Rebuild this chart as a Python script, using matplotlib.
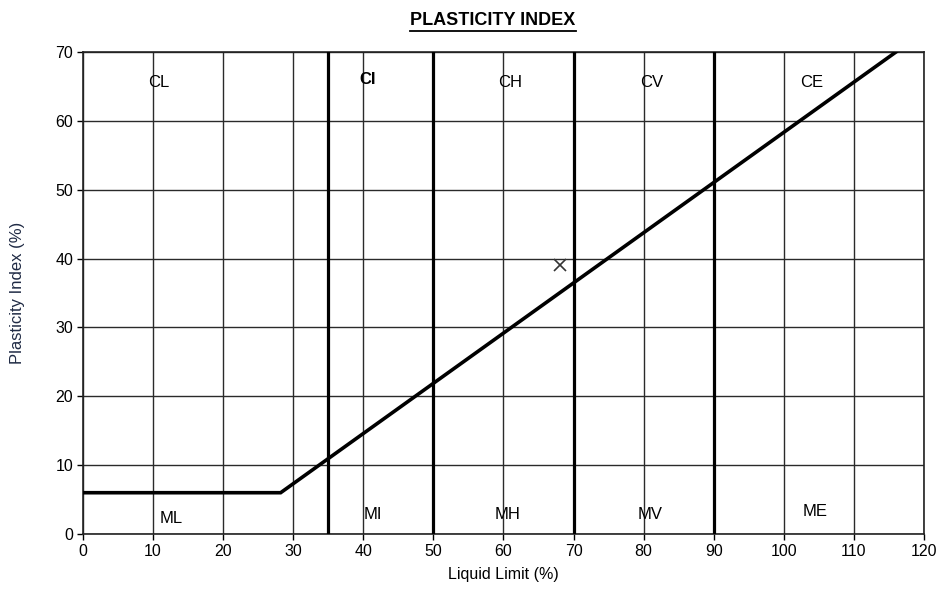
import matplotlib.pyplot as plt
from matplotlib.lines import Line2D

plt.rcParams["font.family"] = ["Liberation Sans", "DejaVu Sans"]

# A-line (Casagrande): flat at PI = 6, then PI = 0.73 (LL - 20)
aline_ll = [0, 28.2, 116]
aline_pi = [6, 6, 70]

# liquid limit boundaries between L / I / H / V / E
boundaries = [35, 50, 70, 90]

# sample result
sample_ll = [68]
sample_pi = [39]

# zone labels
zone_names = ["CL", "CI", "CH", "CV", "CE", "ML", "MI", "MH", "MV", "ME"]
zone_ll = [10.8, 40.6, 60.9, 81.1, 104.0, 12.6, 41.3, 60.6, 80.9, 104.5]
zone_pi = [65.5, 66.0, 65.5, 65.5, 65.5, 2.3, 2.9, 2.9, 2.9, 3.2]

fig = plt.figure(figsize=(9.39, 5.91), dpi=100)
ax = fig.add_axes([0.0884, 0.0964, 0.8956, 0.8156])

ax.set_xlim(0, 120)
ax.set_ylim(0, 70)
ax.set_xticks(range(0, 121, 10))
ax.set_yticks(range(0, 71, 10))
ax.grid(True, color="#2a2a2a", linewidth=1.0)
ax.set_axisbelow(True)
for s in ax.spines.values():
    s.set_linewidth(1.2)
    s.set_color("#222222")
ax.tick_params(direction="out", length=4, width=1.0, labelsize=11.5, pad=3)

for b in boundaries:
    ax.axvline(b, color="black", linewidth=2.3, zorder=3)

ax.plot(aline_ll, aline_pi, color="black", linewidth=2.6, solid_joinstyle="miter", zorder=4)
ax.plot(sample_ll, sample_pi, marker="x", color="#333333", markersize=8, markeredgewidth=1.2,
        linestyle="none", zorder=5)

for name, x, y in zip(zone_names, zone_ll, zone_pi):
    weight = "bold" if name == "CI" else "normal"
    ax.text(x, y, name, ha="center", va="center", fontsize=12, fontweight=weight, zorder=6)

ax.set_xlabel("Liquid Limit (%)", fontsize=11.5, labelpad=6)
ax.set_ylabel("Plasticity Index (%)", fontsize=12, labelpad=22, color="#1f2a44")

title = fig.text(0.525, 0.966, "PLASTICITY INDEX", ha="center", va="center",
                 fontsize=13, fontweight="bold")

# underline the title
fig.canvas.draw()
bb = title.get_window_extent().transformed(fig.transFigure.inverted())
uy = bb.y0 - 0.004
fig.add_artist(Line2D([bb.x0, bb.x1], [uy, uy], transform=fig.transFigure,
                      color="black", linewidth=1.3))

fig.savefig("out.png", dpi=100)
